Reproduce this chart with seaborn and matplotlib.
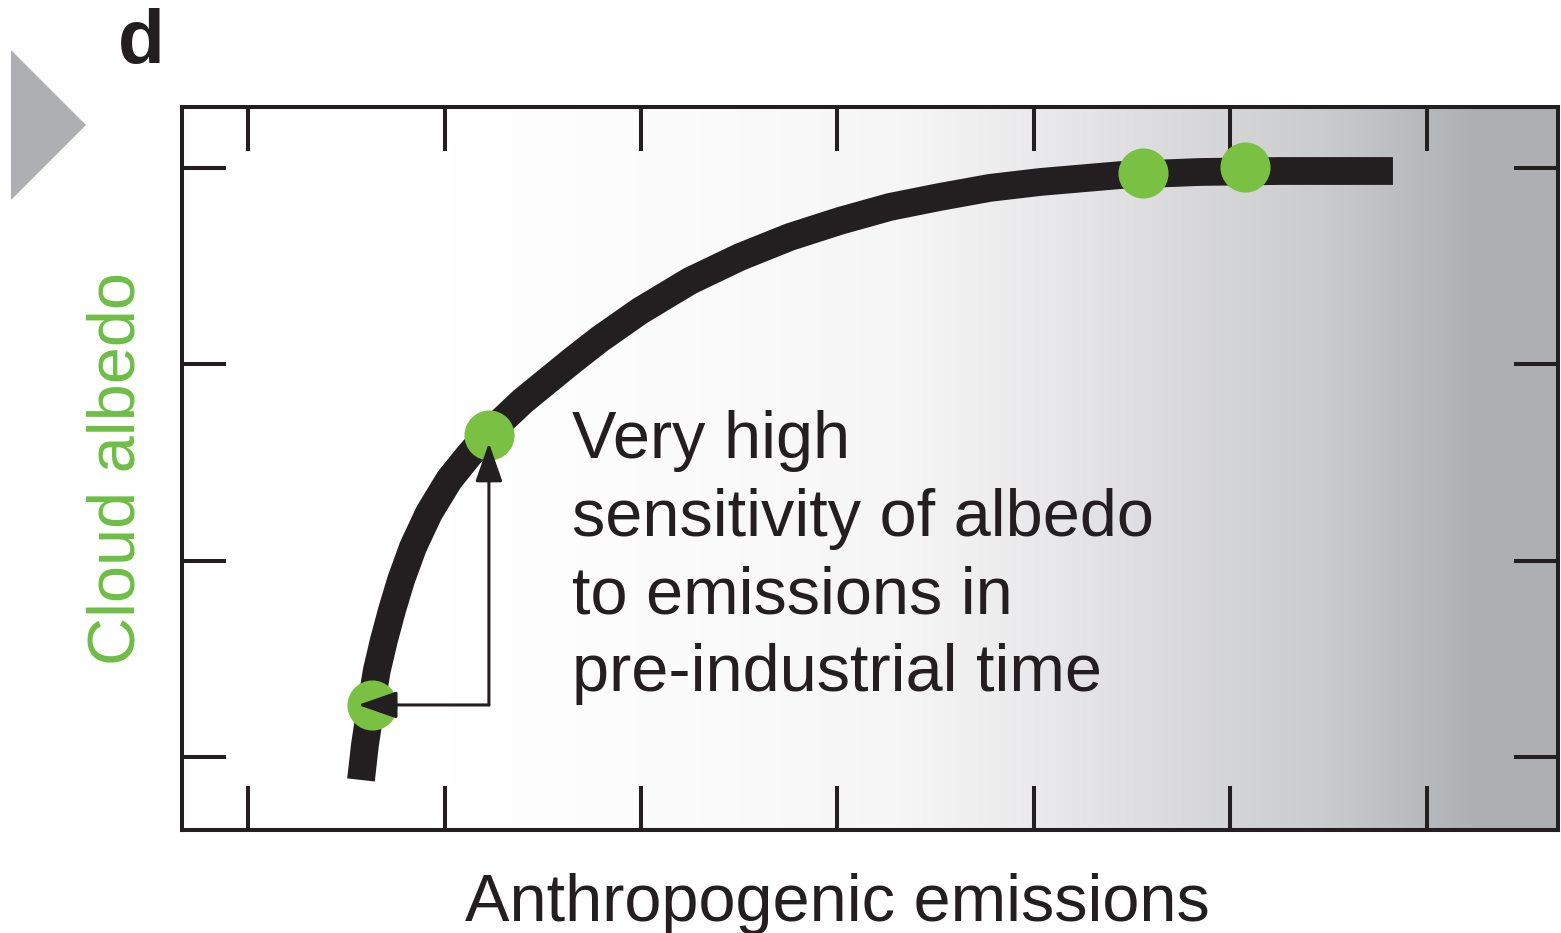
import matplotlib
matplotlib.use('Agg')
import numpy as np
import matplotlib.pyplot as plt
import seaborn as sns
from matplotlib.patches import Polygon

# curve: cloud albedo vs anthropogenic emissions
emissions = [1.575, 1.595, 1.626, 1.656, 1.692, 1.733, 1.779, 1.840, 1.921, 2.023,
             2.125, 2.226, 2.399, 2.654, 2.791, 2.995, 3.249, 3.504, 3.758, 4.013,
             4.267, 4.522, 4.776, 5.031, 5.438, 5.845, 6.252, 6.827]
albedo = [0.883, 1.061, 1.265, 1.443, 1.596, 1.749, 1.902, 2.070, 2.243, 2.411,
          2.538, 2.651, 2.814, 3.022, 3.129, 3.272, 3.425, 3.547, 3.649, 3.731,
          3.802, 3.853, 3.899, 3.929, 3.964, 3.980, 3.985, 3.985]

# green points on the curve
dot_x = [1.631, 2.226, 5.555, 6.074]
dot_y = [1.265, 2.640, 3.975, 4.006]

# arrow (corner, left tip, top tip)
arrow_corner = (2.226, 1.265)
arrow_left = (1.560, 1.265)
arrow_up = (2.226, 2.600)

x_ticks = [1, 2, 3, 4, 5, 6, 7]
y_ticks = [1, 2, 3, 4]
x_lim = (0.664, 7.667)
y_lim = (0.628, 4.311)

note = "Very high\nsensitivity of albedo\nto emissions in\npre-industrial time"

BLACK = '#231F20'
GREEN = '#7AC143'
LABEL_GREEN = '#6DBE45'

sns.set_theme(style="white")
plt.rcParams['font.family'] = ['Liberation Sans', 'DejaVu Sans']

fig = plt.figure(figsize=(15.61, 9.33), dpi=100)
ax = fig.add_axes([182 / 1561, 1 - 830 / 933, 1376 / 1561, 723 / 933])

# background gradient white -> grey towards the right
stops_px = np.array([0, 268, 518, 718, 874, 970, 1139, 1290, 1376]) / 1376
stops_v = np.array([[255, 255, 255], [255, 255, 255], [251, 251, 251], [246, 246, 246],
                    [232, 232, 234], [221, 221, 223], [203, 204, 206], [175, 176, 180],
                    [174, 175, 179]]) / 255
xs = np.linspace(0, 1, 1400)
grad = np.stack([np.interp(xs, stops_px, stops_v[:, i]) for i in range(3)], axis=-1)[None, :, :]
ax.imshow(grad, extent=(x_lim[0], x_lim[1], y_lim[0], y_lim[1]), aspect='auto', zorder=0)

sns.lineplot(x=emissions, y=albedo, ax=ax, color=BLACK, linewidth=20, sort=False,
             solid_capstyle='butt', solid_joinstyle='round', zorder=2)
sns.scatterplot(x=dot_x, y=dot_y, ax=ax, color=GREEN, s=1300, linewidth=0, zorder=3)

aprops = dict(arrowstyle='-|>,head_length=1.2,head_width=0.42', color=BLACK, lw=2.2,
              mutation_scale=20, shrinkA=0, shrinkB=0)
ax.annotate('', xy=arrow_left, xytext=arrow_corner, arrowprops=aprops, zorder=4)
ax.annotate('', xy=arrow_up, xytext=arrow_corner, arrowprops=aprops, zorder=4)

ax.text(2.649, 2.765, note, fontsize=48, color=BLACK, ha='left', va='top',
        linespacing=1.32, zorder=5)

ax.set_xlim(*x_lim)
ax.set_ylim(*y_lim)
ax.set_xticks(x_ticks)
ax.set_yticks(y_ticks)
ax.tick_params(direction='in', length=32, width=2.9, color=BLACK,
               bottom=True, left=True, top=True, right=True,
               labelbottom=False, labelleft=False)
for s in ax.spines.values():
    s.set_color(BLACK)
    s.set_linewidth(2.9)

ax.set_xlabel('Anthropogenic emissions', fontsize=48, color=BLACK)
ax.xaxis.set_label_coords(0.476, -0.059)
ax.set_ylabel('Cloud albedo', fontsize=48, color=LABEL_GREEN)
ax.yaxis.set_label_coords(-0.024, 0.5)

fig.text(118 / 1561, 1 - 63 / 933, 'd', fontsize=55, fontweight='bold', color=BLACK,
         ha='left', va='baseline')
fig.patches.append(Polygon([(11 / 1561, 1 - 50 / 933), (86 / 1561, 1 - 125 / 933),
                            (11 / 1561, 1 - 200 / 933)], closed=True,
                           transform=fig.transFigure, facecolor='#AEAFB3', edgecolor='none'))

fig.savefig('out.png', dpi=100)
plt.close()
